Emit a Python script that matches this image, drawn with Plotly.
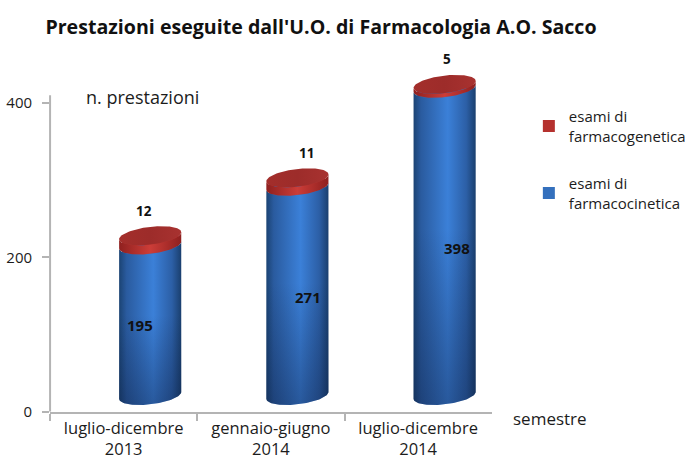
import numpy as np
import plotly.graph_objects as go

categories = ["luglio-dicembre<br>2013", "gennaio-giugno<br>2014", "luglio-dicembre<br>2014"]
cinetica = [195, 271, 398]
genetica = [12, 11, 5]
name_cinetica = "esami di<br>farmacocinetica"
name_genetica = "esami di<br>farmacogenetica"
y_ticks = [0, 200, 400]
axis_top = 410

# pseudo-3D drawing parameters
LIFT = 21.0; CX = 0.18; A = 0.211; B = 11.5; K = 4.5
FONT = "Open Sans"; INK = "#1c1c1c"; AXIS = "#b4b4b4"
W, H = 691, 469
PW = 672  # width left to the plot area once the legend has reserved its margin
L, R, T, Bm = 50, 491, 48.9, 411.7
YMAX = 470
def px(x): return x / PW
def py(y): return 1 - y / H

t = np.linspace(0, np.pi, 50)
def upper(i, y):
    th = t[::-1]
    return i + CX + A*np.cos(th), y + K*np.cos(th) + B*np.sin(th)
def lower(i, y):
    th = t[::-1]
    return i + CX + A*np.cos(th), y + K*np.cos(th) - B*np.sin(th)

fig = go.Figure()
fig.add_trace(go.Bar(x=categories, y=cinetica, base=[LIFT]*3, name=name_cinetica, legendgroup="b", legendrank=2,
                     width=0.9*2*A, offset=CX-0.9*A, marker=dict(color="#3470bd", line_width=0), hoverinfo="skip"))
fig.add_trace(go.Bar(x=categories, y=genetica, base=[LIFT+v for v in cinetica], name=name_genetica, legendgroup="r", legendrank=1,
                     width=0.9*2*A, offset=CX-0.9*A, marker=dict(color="#b5312e", line_width=0), hoverinfo="skip"))

def poly(x, y, grad):
    fig.add_trace(go.Scatter(x=x, y=y, xaxis="x2", mode="lines", line=dict(width=0), fill="toself",
                             fillgradient=grad, showlegend=False, hoverinfo="skip"))

blue_h = dict(type="horizontal", colorscale=[[0, "#1b4373"], [0.12, "#2a5b9f"], [0.55, "#3b80d8"], [0.85, "#2c5fa6"], [1, "#1a3f6e"]])
shade_v = dict(type="vertical", colorscale=[[0, "rgba(10,25,60,0.38)"], [0.55, "rgba(10,25,60,0)"], [1, "rgba(10,25,60,0)"]])
red_h = dict(type="horizontal", colorscale=[[0, "#8f201f"], [0.5, "#cc3d38"], [1, "#8f201f"]])
red_top = dict(type="horizontal", colorscale=[[0, "#a32e2b"], [0.5, "#9d2c2a"], [1, "#a83230"]])

for i, (c, g) in enumerate(zip(cinetica, genetica)):
    y1 = LIFT + c; y2 = y1 + g
    xl, yl = lower(i, LIFT); xu, yu = lower(i, y1)
    qx = np.r_[xl, xu[::-1]]; qy = np.r_[yl, yu[::-1]]
    poly(qx, qy, blue_h)
    poly(qx, qy, shade_v)
    xr, yr = lower(i, y2)
    poly(np.r_[xu, xr[::-1]], np.r_[yu, yr[::-1]], red_h)
    xa, ya = upper(i, y2)
    poly(np.r_[xr, xa[::-1]], np.r_[yr, ya[::-1]], red_top)

annos = []
blue_shift = [(-10, -5), (11, -6), (12, -6)]
red_shift = [(-6, 25), (9, 25), (2, 25)]
for i, (c, g) in enumerate(zip(cinetica, genetica)):
    annos.append(dict(x=i+CX, y=LIFT+c/2, xref="x2", yref="y", text=f"<b>{c}</b>", showarrow=False,
                      xshift=blue_shift[i][0], yshift=blue_shift[i][1], font=dict(family=FONT, size=15, color="#111")))
    annos.append(dict(x=i+CX, y=LIFT+c+g, xref="x2", yref="y", text=f"<b>{g}</b>", showarrow=False,
                      xshift=red_shift[i][0], yshift=red_shift[i][1], font=dict(family=FONT, size=13.5, color="#111")))
annos.append(dict(x=px(142.5), y=py(97), xref="paper", yref="paper", xanchor="center", yanchor="middle",
                  text="n. prestazioni", showarrow=False, font=dict(family=FONT, size=18, color=INK)))
annos.append(dict(x=px(549.5), y=py(418), xref="paper", yref="paper", xanchor="center", yanchor="middle",
                  text="semestre", showarrow=False, font=dict(family=FONT, size=17, color=INK)))

fig.update_layout(
    width=W, height=H, autosize=False,
    margin=dict(l=0, r=0, t=0, b=0, pad=0),
    paper_bgcolor="white", plot_bgcolor="white",
    barmode="overlay", showlegend=True, bargap=0,
    title=dict(text="<b>Prestazioni eseguite dall'U.O. di Farmacologia A.O. Sacco</b>",
               x=321/W, xanchor="center", y=1-27/H, yanchor="middle",
               font=dict(family=FONT, size=19.6, color="#111")),
    xaxis=dict(type="category", categoryorder="array", categoryarray=categories, range=[-0.5, 2.5], automargin=False,
               domain=[px(L), px(R)], tickson="boundaries", ticks="outside", ticklen=7, tickcolor=AXIS, tickwidth=2,
               tickangle=0, showline=True, linecolor=AXIS, linewidth=2, showgrid=False, zeroline=False,
               tickfont=dict(family=FONT, size=16.5, color=INK)),
    xaxis2=dict(type="linear", overlaying="x", range=[-0.5, 2.5], domain=[px(L), px(R)], visible=False, anchor="y", automargin=False),
    yaxis=dict(range=[0, YMAX], domain=[1-Bm/H, 1-T/H], tickvals=y_ticks, ticks="outside", ticklen=7, tickcolor=AXIS, tickwidth=2,
               ticklabelstandoff=7, showline=False, showgrid=False, zeroline=False, automargin=False,
               tickfont=dict(family=FONT, size=15, color=INK)),
    shapes=[dict(type="line", xref="paper", yref="y", x0=px(L), x1=px(L), y0=0, y1=axis_top, line=dict(color=AXIS, width=2))],
    legend=dict(x=543/W, xanchor="left", y=py(100), yanchor="top",
                tracegroupgap=25, bgcolor="rgba(0,0,0,0)",
                font=dict(family=FONT, size=15, color=INK), itemclick=False, itemdoubleclick=False),
    annotations=annos,
)
fig.write_html("out.html", config=dict(displayModeBar=False),
               post_script="document.body.style.margin='0';")
